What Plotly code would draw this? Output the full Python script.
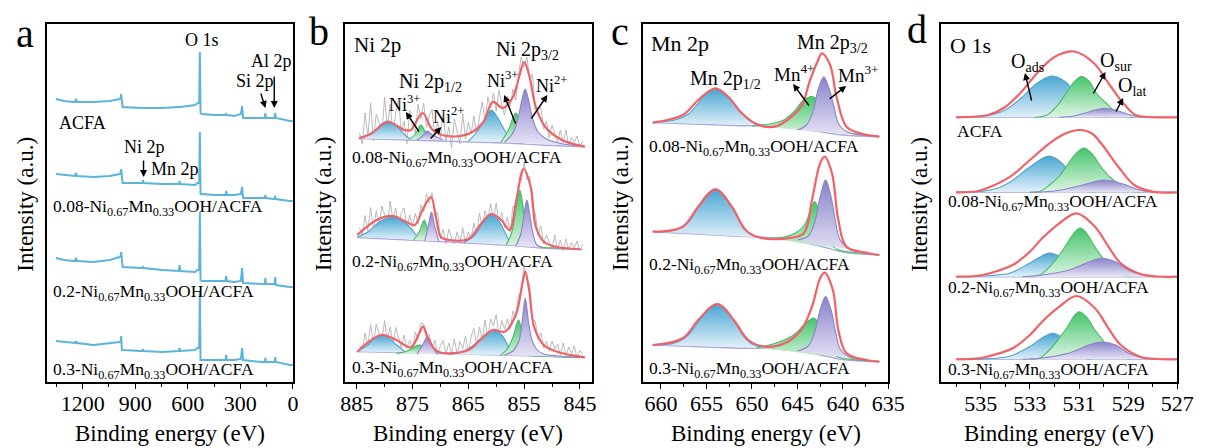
import plotly.graph_objects as go

W, H = 1208, 448
FONT = "'Liberation Serif', Tinos, 'Times New Roman', Times, 'DejaVu Serif', serif"

# ---------------- panel a : survey spectra ----------------
SURVEY_E = [1353, 1307, 1251, 1243, 1239, 1232, 1138, 1045, 989, 983, 980, 976, 972,
            866, 858, 855, 852, 746, 651, 647, 643, 559, 544, 535, 531, 527, 520, 447,
            385, 381, 377, 335, 297, 290, 284, 178, 160, 157, 154, 110, 104, 101, 98, 17, 0]
SURVEY_ACFA = [283, 281, 280, 280, 283, 280, 280, 281, 283, 284, 288, 276, 275,
               274, 274, 274, 274, 274, 275, 275, 275, 277, 279, 280, 330, 269, 268, 267,
               267, 268, 267, 266, 268, 276, 264, 264, 264, 269, 264, 264, 264, 269, 264, 261, 261]
SURVEY_008 = [208, 207, 206, 206, 209, 206, 205, 206, 208, 209, 213, 200, 199,
              199, 199, 202, 199, 198, 198, 201, 198, 197, 199, 199, 250, 188, 188, 187,
              187, 191, 187, 187, 188, 195, 184, 184, 184, 187, 184, 183, 183, 186, 183, 181, 181]
SURVEY_02 = [124, 122, 121, 121, 124, 121, 120, 122, 125, 126, 130, 116, 115,
             114, 114, 116, 114, 112, 111, 117, 111, 110, 112, 112, 170, 102, 101, 101,
             101, 106, 101, 100, 101, 114, 99, 98, 98, 104, 98, 98, 98, 105, 97, 95, 95]
SURVEY_03 = [41, 40, 39, 39, 41, 39, 37, 39, 40, 41, 46, 32, 32,
             31, 31, 33, 31, 30, 31, 34, 31, 32, 34, 34, 90, 22, 22, 22,
             22, 27, 22, 22, 23, 34, 22, 20, 20, 24, 20, 20, 20, 25, 20, 17, 17]

# ---------------- panel b : Ni 2p ----------------
NI_GRAY_E = [884.5, 884, 883.5, 883, 882.5, 882, 881.5, 881, 880.5, 880,
             879.5, 879, 878.5, 878, 877.5, 877, 876.5, 876, 875.5, 875,
             874.5, 874, 873.5, 873, 872.5, 872, 871.5, 871, 870.5, 870,
             869.5, 869, 868.5, 868, 867.5, 867, 866.5, 866, 865.5, 865,
             864.5, 864, 863.5, 863, 862.5, 862, 861.5, 861, 860.5, 860,
             859.5, 859, 858.5, 858, 857.5, 857, 856.5, 856, 855.5, 855,
             854.5, 854, 853.5, 853, 852.5, 852, 851.5, 851, 850.5, 850,
             849.5, 849, 848.5, 848, 847.5, 847, 846.5, 846, 845.5, 845, 844.5]
NI_GRAY_008 = [249, 238, 269, 245, 279, 241, 268, 260, 246, 285,
               254, 278, 249, 269, 283, 249, 261, 238, 272, 255,
               249, 278, 263, 279, 255, 266, 273, 242, 261, 244,
               270, 240, 255, 234, 263, 250, 238, 268, 243, 260,
               248, 266, 245, 265, 280, 261, 285, 274, 289, 271,
               292, 277, 267, 286, 275, 293, 282, 308, 325, 315,
               325, 303, 308, 272, 274, 274, 253, 261, 244, 257,
               249, 240, 252, 239, 252, 236, 245, 240, 246, 235, 241]
NI_GRAY_02 = [154.5, 145.5, 166.5, 151.5, 174.5, 153, 171.5, 156, 176, 167,
              157.5, 181, 162, 174, 154, 169.5, 174, 154, 167, 155,
              168.5, 158, 177, 170, 188, 179, 189, 166, 170, 143,
              153, 138, 153, 144, 138, 150, 139.5, 154.5, 138, 150,
              143.5, 159, 146.5, 169, 155.5, 171.5, 162, 178.5, 162, 179,
              157.5, 169.5, 154, 165, 150, 176, 174, 199, 201, 219,
              202, 206, 174, 169, 146, 156, 138, 147, 140, 133,
              147, 133, 142, 131.5, 143, 132, 139.5, 134.5, 141, 131, 137.5]
NI_GRAY_03 = [37, 30, 49, 36.5, 57.5, 38, 57.5, 48, 40, 61.5,
              42, 55, 38, 54.5, 44, 34.5, 47, 33.5, 42, 31.5,
              50, 43, 59, 58, 45, 48, 33, 42, 27.5, 36.5,
              41.5, 28, 39, 29, 43, 27.5, 40.5, 33.5, 46, 29,
              45, 53.5, 36, 55, 42.5, 62, 44, 63, 56, 67.5,
              45, 61.5, 53, 63, 52.5, 71, 64, 87, 89, 117,
              103, 96, 63, 61, 43, 49, 34, 41, 31, 41,
              33, 38, 26.5, 39, 26.5, 35, 28.5, 36, 24, 31.5, 28]

NI_BASE_008 = [(884.6, 243.5), (870, 241), (858, 239), (852, 237), (844.1, 235.3)]
NI_BLUE1_008 = [(884.6, 243.5), (883, 247), (881.5, 253), (880.3, 259), (879.4, 261), (878.3, 258),
                (877, 251), (876, 245), (875, 242.5)]
NI_GREEN1_008 = [(875.7, 242.5), (874.6, 247), (873.5, 257), (872.6, 249), (871.4, 242)]
NI_PURPLE1_008 = [(874.2, 242), (873.2, 246), (872.4, 251), (871.4, 247), (869.5, 242)]
NI_BLUE2_008 = [(865, 240.5), (863.5, 250), (862, 263), (860.9, 272), (859.7, 264), (858.3, 250), (857, 240)]
NI_GREEN2_008 = [(859.2, 239.5), (857.8, 252), (856.5, 269), (855.6, 258), (854.6, 241)]
NI_PURPLE2_008 = [(858.5, 240), (857, 249), (856, 266), (855.4, 282), (854.8, 293), (854.2, 282),
                  (853.5, 264), (852.5, 250), (851, 243), (848, 238), (845, 236)]
NI_RED_008 = [(884.6, 243.7), (882.3, 248.7), (879.4, 260), (876.4, 252), (875.3, 252), (873.2, 269),
              (871.4, 252), (868.8, 246), (864.7, 248.7), (862.3, 260), (860.6, 280), (858.8, 274),
              (857, 285), (855.9, 305), (855, 320), (854.1, 307), (852.9, 275), (851.2, 255),
              (848.2, 242), (844.1, 235.3)]

NI_BASE_02 = [(884.9, 144.5), (872, 141), (856, 136), (852, 134), (844.5, 132.5)]
NI_BLUE1_02 = [(884.9, 145), (883, 150), (881.4, 158), (880, 163), (878.5, 165), (877, 162),
               (875.5, 155), (874.5, 148), (873.8, 142)]
NI_GREEN1_02 = [(874.8, 142), (873.8, 150), (872.9, 162), (872.3, 152), (871.7, 141)]
NI_PURPLE1_02 = [(872.8, 141), (872.2, 155), (871.6, 170), (871.0, 155), (870.3, 141)]
NI_BLUE2_02 = [(865.8, 139.5), (864, 146), (862.5, 158), (860.9, 167), (859.5, 161), (858.3, 148), (857.3, 137)]
NI_GREEN2_02 = [(858.2, 137), (857.2, 150), (856.4, 175), (855.8, 192), (855.3, 180), (854.7, 155),
                (854, 140), (852, 135), (848, 134), (845, 133)]
NI_PURPLE2_02 = [(856.5, 136), (855.6, 148), (855.0, 168), (854.5, 182), (854.0, 168), (853.4, 148),
                 (852.7, 137), (851.5, 134.5)]
NI_RED_02 = [(884.9, 147), (881.4, 162), (878.5, 166), (876.1, 160), (874.6, 157), (873.2, 172),
             (871.7, 185), (870.8, 165), (869.9, 145), (868.4, 142), (865, 143), (862.6, 159),
             (860.9, 168), (859.1, 162), (857.6, 152), (856.4, 182), (855.1, 213), (853.8, 195),
             (852.9, 155), (851.4, 140), (849.1, 135), (845, 133)]

NI_BASE_03 = [(884.9, 30.5), (870, 28.5), (856, 26.5), (844.1, 24.5)]
NI_BLUE1_03 = [(884.9, 30.5), (883, 37), (881.8, 44), (880.6, 47), (879.3, 44), (877.8, 37), (876.2, 29.5)]
NI_GREEN1_03 = [(877.9, 28.5), (876, 31), (874.4, 36), (873.6, 37), (872.8, 33), (872.1, 28)]
NI_PURPLE1_03 = [(874.2, 28), (873.3, 36), (872.3, 45), (871.5, 37), (870.7, 28)]
NI_BLUE2_03 = [(868.5, 27.5), (866.5, 29.5), (864.5, 35), (862.5, 44), (860.6, 52), (859, 47), (858, 37), (857.2, 27)]
NI_GREEN2_03 = [(859.2, 27), (858, 33), (857, 45), (856.0, 62), (855.4, 50), (854.8, 32), (854, 27),
                (850, 25.5), (845, 24.5)]
NI_PURPLE2_03 = [(858.5, 27), (857, 31), (856, 40), (855.4, 58), (854.8, 84), (854.2, 60), (853.6, 42),
                 (852.8, 33), (851.5, 28), (849, 26), (845, 24.5)]
NI_RED_03 = [(884.9, 30), (883.2, 38.7), (880.6, 47), (877.9, 42), (875.3, 34.7), (873.8, 48.7),
             (873.1, 55.3), (872.1, 42), (870.4, 30.3), (865, 32), (862.6, 43.7), (860.6, 52),
             (858.5, 50.3), (856.5, 67), (855.3, 98.7), (854.8, 110.3), (854.1, 92), (853.2, 55),
             (851.5, 37), (849.1, 30.3), (844.1, 24.7)]

# ---------------- panel c : Mn 2p ----------------
MN_BASE_008 = [(660.9, 259.5), (652, 256.5), (647, 255.5), (643, 251), (640, 247), (636, 245.3)]
MN_BLUE_008 = [(660.9, 259.5), (658.5, 262), (657, 268), (655.9, 279), (655, 289), (654, 293), (653, 288),
               (652.2, 281), (651.2, 270), (650.2, 261), (648.5, 256.5), (647, 256)]
MN_GREEN_008 = [(650, 256), (648, 258), (646.5, 262), (645.4, 270), (644.3, 282), (643.4, 285.5),
                (642.7, 281), (642.2, 270), (641.5, 258), (640.5, 251), (639, 248.5), (636, 245.5)]
MN_PURPLE_008 = [(645, 252), (644, 257), (643.3, 270), (642.7, 293), (642.1, 305), (641.5, 293),
                 (641, 276), (640.4, 257), (639.5, 250), (638, 247), (636, 245.5)]
MN_RED_008 = [(660.9, 259.3), (657.6, 267), (655.9, 282), (654.0, 293.7), (652.6, 285.3), (651.1, 268.7),
              (649.3, 257), (647.5, 255.3), (646.1, 262), (644.6, 275.3), (643.6, 302), (642.8, 320.3),
              (642.3, 328.7), (641.4, 317), (640.7, 285.3), (639.6, 255.3), (638.1, 248.7), (636, 245.3)]

MN_BASE_02 = [(660.9, 150.3), (652, 146), (647, 143.5), (643, 137), (640, 130), (636, 127)]
MN_BLUE_02 = [(660.9, 150.5), (658.5, 152), (657, 160), (655.9, 175), (655, 187), (654, 193), (653, 186),
              (652.2, 175), (651.2, 159), (650.2, 148), (648.5, 144), (647, 143.5)]
MN_GREEN_02 = [(648, 144), (646.5, 145), (645.2, 149), (644.3, 156), (643.6, 170), (643.1, 180.5),
               (642.6, 170), (642.1, 152), (641.5, 140), (640.5, 132), (638, 129), (636, 127)]
MN_PURPLE_02 = [(645, 142), (643.8, 146), (643.1, 160), (642.5, 185), (641.9, 202), (641.3, 185),
                (640.8, 160), (640.3, 142), (639.3, 133), (637.5, 129), (636, 127)]
MN_RED_02 = [(660.9, 150.3), (657.6, 155.3), (655.9, 175.3), (654.0, 192.7), (652.2, 175.3), (650.7, 152),
             (649.3, 144.7), (646.1, 143.7), (644.3, 148.7), (643.4, 182), (642.5, 218.7), (642.0, 225.3),
             (641.2, 208.7), (640.5, 162), (639.6, 135.3), (637.4, 129.3), (636, 127)]

MN_BASE_03 = [(660.9, 37), (652, 34), (647, 33), (643, 28), (640, 22.5), (636, 20.3)]
MN_BLUE_03 = [(660.9, 37), (658.5, 39), (657, 47), (655.9, 60), (654.8, 73), (653.8, 78), (652.8, 72),
              (652, 62), (651, 47), (650, 38), (648.5, 34.5), (647, 34)]
MN_GREEN_03 = [(649.5, 34.5), (647.5, 38.5), (645.4, 47), (644.3, 57), (643.2, 64), (642.6, 57),
               (642.1, 45), (641.5, 33), (640.5, 25), (638.5, 22), (636, 20.5)]
MN_PURPLE_03 = [(645, 31), (643.8, 36), (643.1, 50), (642.5, 72), (641.9, 85.5), (641.3, 72),
                (640.8, 50), (640.3, 33), (639.3, 25), (637.5, 21.5), (636, 20.5)]
MN_RED_03 = [(660.9, 37), (657.6, 43.7), (655.9, 62), (653.8, 78), (652, 62), (650.4, 42), (648.6, 35.3),
             (646.4, 38.7), (644.6, 52), (643.4, 75.3), (642.5, 103.7), (642, 109.3), (641.1, 92),
             (640.5, 52), (639.6, 28.7), (637.4, 22), (636, 20.3)]

# ---------------- panel d : O 1s ----------------
O_BASE_ACFA = [(536, 264.7), (527, 264.7)]
O_BLUE_ACFA = [(536, 264.7), (535, 265.5), (534.5, 267.5), (534, 272), (533.35, 284), (532.7, 299),
               (532.1, 306), (531.6, 301), (531.35, 295), (530.8, 275), (530.3, 266.5), (529.8, 264.7)]
O_GREEN_ACFA = [(532.8, 264.7), (532.3, 267), (531.9, 276), (531.6, 286), (531.2, 300), (530.9, 305.5),
                (530.6, 301), (530.3, 289), (529.9, 279), (529.6, 272), (529.2, 266), (528.7, 264.7)]
O_PURPLE_ACFA = [(531.8, 264.7), (531.2, 266), (530.6, 270), (530, 273.7), (529.4, 271), (528.9, 267), (528.3, 264.7)]
O_RED_ACFA = [(536, 264.7), (535.2, 265.5), (534.7, 267), (534, 275), (533.35, 290), (532.7, 309), (532, 325),
              (531.2, 330.5), (530.4, 319), (529.75, 297), (529.2, 279), (528.7, 267), (528.2, 265), (527, 264.7)]

O_BASE_008 = [(536, 189.7), (527, 189.7)]
O_BLUE_008 = [(536, 189.7), (535, 190.5), (534.3, 194), (533.8, 200), (533, 215), (532.2, 226), (531.5, 214),
              (531.1, 197), (530.7, 190.5), (530.3, 189.7)]
O_GREEN_008 = [(533, 189.7), (532.6, 190.5), (532.2, 197), (531.8, 206), (531.5, 216), (531.1, 229), (530.8, 234),
               (530.5, 229), (530.1, 215), (529.7, 204), (529.4, 198.5), (528.9, 191), (528.5, 189.7)]
O_PURPLE_008 = [(533, 189.7), (532, 191), (531, 196), (530, 202), (529.2, 198), (528.6, 192.5), (528, 189.7)]
O_RED_008 = [(536, 189.7), (535.2, 190.5), (534.75, 193.7), (533.8, 205.3), (533, 222), (532.2, 238.7),
             (531.6, 248), (531, 252), (530.5, 249), (530.1, 238.7), (529.4, 215.3), (528.75, 197),
             (528, 190.3), (527, 189.7)]

O_BASE_02 = [(536, 105.3), (527, 105.3)]
O_BLUE_02 = [(535.5, 105.3), (534.6, 106.5), (533.8, 109), (533, 119), (532.2, 129), (531.7, 124), (531.3, 115),
             (531.0, 108), (530.6, 105.3)]
O_GREEN_02 = [(533, 105.3), (532.6, 107), (532.2, 115), (531.8, 127), (531.5, 138), (531.2, 149), (530.95, 154),
              (530.7, 149), (530.35, 135), (530, 123), (529.7, 114), (529.3, 107), (528.9, 105.3)]
O_PURPLE_02 = [(533.3, 105.3), (532.5, 107), (531.4, 112), (530.6, 120), (530.1, 123.7), (529.5, 120),
               (529, 112), (528.4, 107), (527.8, 105.3)]
O_RED_02 = [(536, 105.3), (535.2, 106), (534.75, 108), (533.7, 117), (533, 130.3), (532.5, 143.7), (531.8, 158.7),
            (531.1, 168.7), (530.35, 155.3), (529.8, 135.3), (529.3, 118.7), (528.5, 108), (527.8, 105.5), (527, 105.3)]

O_BASE_03 = [(536, 22.7), (527, 22.7)]
O_BLUE_03 = [(535.5, 22.7), (534.5, 23.5), (533.8, 26), (533, 35.5), (532.5, 44), (532.1, 48.7), (531.7, 45),
             (531.4, 38), (531.1, 29), (530.7, 23), (530.4, 22.7)]
O_GREEN_03 = [(533, 22.7), (532.6, 24), (532.2, 32), (531.8, 44), (531.5, 54), (531.2, 66), (531.0, 70.3),
              (530.7, 65), (530.35, 52), (530, 41), (529.7, 31), (529.3, 24.5), (528.9, 22.7)]
O_PURPLE_03 = [(533.3, 22.7), (532.5, 24), (531.4, 29), (530.6, 37), (530.1, 40), (529.5, 37), (529, 29),
               (528.4, 24), (527.8, 22.7)]
O_RED_03 = [(536, 22.7), (535.2, 23.3), (534.75, 25.3), (533.7, 33.7), (533, 47), (532.5, 60.3), (531.8, 75.3),
            (531.1, 86), (530.35, 73.7), (529.8, 53.7), (529.3, 37), (528.5, 25.3), (527.8, 23), (527, 22.7)]

# ---------------- styling ----------------
SURVEY_COLOR = "rgb(92,180,219)"
RED = "rgb(240,98,104)"
GRAY = "rgb(178,178,178)"
BASE_COLOR = "rgb(172,168,222)"
COMP = {
    "blue": ("rgb(82,162,204)", "rgb(226,241,250)", "rgb(72,166,210)"),
    "green": ("rgb(70,186,102)", "rgb(222,246,228)", "rgb(70,196,108)"),
    "purple": ("rgb(138,133,200)", "rgb(232,230,246)", "rgb(136,130,202)"),
}

PANELS = {  # pixel extents of the frames
    "a": (43, 293, [1402, 0], [1200, 900, 600, 300, 0], [1350, 1050, 750, 450, 150]),
    "b": (346, 597, [887.1, 842.9], [885, 875, 865, 855, 845], [880, 870, 860, 850]),
    "c": (649, 899, [662, 635], [660, 655, 650, 645, 640, 635], [657.5, 652.5, 647.5, 642.5, 637.5]),
    "d": (953, 1193, [536.6, 527], [535, 533, 531, 529, 527], [536, 534, 532, 530, 528]),
}
TOP, BOTTOM = 24, 382

fig = go.Figure()
axis_ids = {"a": ("x", "y"), "b": ("x2", "y2"), "c": ("x3", "y3"), "d": ("x4", "y4")}


def line(pts_x, pts_y, panel, color, width, shape="linear", **kw):
    xa, ya = axis_ids[panel]
    fig.add_trace(go.Scatter(x=pts_x, y=pts_y, mode="lines", xaxis=xa, yaxis=ya,
                             line=dict(color=color, width=width, shape=shape),
                             showlegend=False, hoverinfo="skip", **kw))


def curve(pts, panel, color, width):
    line([p[0] for p in pts], [p[1] for p in pts], panel, color, width, shape="spline")


def comp(pts, panel, key):
    lc, c0, c1 = COMP[key]
    xs = [p[0] for p in pts]
    ys = [p[1] for p in pts]
    line([xs[0], xs[-1]], [ys[0], ys[-1]], panel, "rgba(0,0,0,0)", 0)
    line(xs, ys, panel, lc, 1.1, shape="spline", fill="tonexty",
         fillgradient=dict(type="vertical", colorscale=[[0, c0], [1, c1]]))


# panel a
for series in (SURVEY_ACFA, SURVEY_008, SURVEY_02, SURVEY_03):
    line(SURVEY_E, series, "a", SURVEY_COLOR, 2.0)

# panel b
for gray, base, b1, g1, p1, b2, g2, p2, red in [
    (NI_GRAY_008, NI_BASE_008, NI_BLUE1_008, NI_GREEN1_008, NI_PURPLE1_008, NI_BLUE2_008, NI_GREEN2_008, NI_PURPLE2_008, NI_RED_008),
    (NI_GRAY_02, NI_BASE_02, NI_BLUE1_02, NI_GREEN1_02, NI_PURPLE1_02, NI_BLUE2_02, NI_GREEN2_02, NI_PURPLE2_02, NI_RED_02),
    (NI_GRAY_03, NI_BASE_03, NI_BLUE1_03, NI_GREEN1_03, NI_PURPLE1_03, NI_BLUE2_03, NI_GREEN2_03, NI_PURPLE2_03, NI_RED_03),
]:
    line(NI_GRAY_E, gray, "b", GRAY, 0.9)
    curve(base, "b", BASE_COLOR, 1.4)
    comp(b1, "b", "blue")
    comp(b2, "b", "blue")
    comp(g1, "b", "green")
    comp(g2, "b", "green")
    comp(p1, "b", "purple")
    comp(p2, "b", "purple")
    curve(red, "b", RED, 2.2)

# panel c
for base, b, g, p, red in [
    (MN_BASE_008, MN_BLUE_008, MN_GREEN_008, MN_PURPLE_008, MN_RED_008),
    (MN_BASE_02, MN_BLUE_02, MN_GREEN_02, MN_PURPLE_02, MN_RED_02),
    (MN_BASE_03, MN_BLUE_03, MN_GREEN_03, MN_PURPLE_03, MN_RED_03),
]:
    curve(base, "c", BASE_COLOR, 1.4)
    comp(b, "c", "blue")
    comp(g, "c", "green")
    comp(p, "c", "purple")
    curve(red, "c", RED, 2.2)

# panel d
for base, b, g, p, red in [
    (O_BASE_ACFA, O_BLUE_ACFA, O_GREEN_ACFA, O_PURPLE_ACFA, O_RED_ACFA),
    (O_BASE_008, O_BLUE_008, O_GREEN_008, O_PURPLE_008, O_RED_008),
    (O_BASE_02, O_BLUE_02, O_GREEN_02, O_PURPLE_02, O_RED_02),
    (O_BASE_03, O_BLUE_03, O_GREEN_03, O_PURPLE_03, O_RED_03),
]:
    curve(base, "d", BASE_COLOR, 1.4)
    comp(b, "d", "blue")
    comp(g, "d", "green")
    comp(p, "d", "purple")
    curve(red, "d", RED, 2.2)

# axes
layout_axes = {}
for i, key in enumerate("abcd"):
    x0, x1, rng, major, minor = PANELS[key]
    sfx = "" if i == 0 else str(i + 1)
    layout_axes["xaxis" + sfx] = dict(
        domain=[x0 / W, x1 / W], range=rng, anchor="y" + sfx,
        tickmode="array", tickvals=major, ticks="outside", ticklen=5, tickwidth=1.2,
        tickcolor="black", showline=True, linecolor="black", linewidth=1.6, mirror=True,
        showgrid=False, zeroline=False, ticklabelstandoff=-4,
        tickfont=dict(family=FONT, size=22, color="black"),
        minor=dict(tickvals=minor, ticks="outside", ticklen=3, tickwidth=1.1, tickcolor="black", showgrid=False),
    )
    layout_axes["yaxis" + sfx] = dict(
        domain=[1 - BOTTOM / H, 1 - TOP / H], range=[0, 358], anchor="x" + sfx,
        showticklabels=False, ticks="", showline=True, linecolor="black", linewidth=1.6,
        mirror=True, showgrid=False, zeroline=False,
    )

annotations = []


def ann(text, x, y, size, xanchor="center", angle=0):
    annotations.append(dict(text=text, x=x / W, y=1 - y / H, xref="paper", yref="paper",
                            xanchor=xanchor, yanchor="middle", showarrow=False, textangle=angle,
                            font=dict(family=FONT, size=size, color="black")))


def arrow(tail, head):
    annotations.append(dict(text="", x=head[0] / W, y=1 - head[1] / H, xref="paper", yref="paper",
                            ax=tail[0] - head[0], ay=tail[1] - head[1], axref="pixel", ayref="pixel",
                            showarrow=True, arrowhead=2, arrowsize=1, arrowwidth=1.4,
                            arrowcolor="black", standoff=0, startstandoff=0))


SAMPLE_008 = "0.08-Ni<sub>0.67</sub>Mn<sub>0.33</sub>OOH/ACFA"
SAMPLE_02 = "0.2-Ni<sub>0.67</sub>Mn<sub>0.33</sub>OOH/ACFA"
SAMPLE_03 = "0.3-Ni<sub>0.67</sub>Mn<sub>0.33</sub>OOH/ACFA"

# panel letters
ann("a", 20, 33, 40)
ann("b", 320, 31, 40)
ann("c", 626, 32, 40)
ann("d", 928, 29, 40)

# axis titles
for cx, tx in [(21, 168), (325, 471), (627, 774), (931, 1073)]:
    ann("Intensity (a.u.)", cx, 204, 23, angle=-90)
    ann("Binding energy (eV)", tx, 433, 23)

# panel a texts
ann("O 1s", 200, 40, 18)
ann("Al 2p", 271, 61, 18)
ann("Si 2p", 254, 81, 18)
arrow((260, 92), (265, 108))
arrow((274, 75), (274, 108))
ann("ACFA", 79, 123, 18)
ann("Ni 2p", 142, 147, 18)
arrow((141, 159), (141, 177))
ann("Mn 2p", 173, 169, 18)
ann(SAMPLE_008, 47, 207, 17.5, xanchor="left")
ann(SAMPLE_02, 47, 292, 17.5, xanchor="left")
ann(SAMPLE_03, 47, 370, 17.5, xanchor="left")

# panel b texts
ann("Ni 2p", 353, 45, 21, xanchor="left")
ann("Ni 2p<sub>3/2</sub>", 532, 51, 20)
ann("Ni 2p<sub>1/2</sub>", 433, 82, 20)
ann("Ni<sup>3+</sup>", 407, 103, 18)
ann("Ni<sup>2+</sup>", 451, 115, 18)
ann("Ni<sup>3+</sup>", 506, 79, 18)
ann("Ni<sup>2+</sup>", 556, 84, 18)
arrow((422, 133), (408, 112))
arrow((432, 140), (444, 127))
arrow((520, 125), (508, 95))
arrow((535, 120), (552, 95))
ann(SAMPLE_008, 351, 158, 17.5, xanchor="left")
ann(SAMPLE_02, 351, 262, 17.5, xanchor="left")
ann(SAMPLE_03, 351, 368, 17.5, xanchor="left")

# panel c texts
ann("Mn 2p", 655, 43, 22, xanchor="left")
ann("Mn 2p<sub>3/2</sub>", 842, 43, 20)
ann("Mn 2p<sub>1/2</sub>", 733, 79, 20)
ann("Mn<sup>4+</sup>", 803, 73, 19)
ann("Mn<sup>3+</sup>", 869, 74, 19)
arrow((819, 107), (802, 84))
arrow((838, 100), (856, 86))
ann(SAMPLE_008, 653, 147, 17.5, xanchor="left")
ann(SAMPLE_02, 653, 265, 17.5, xanchor="left")
ann(SAMPLE_03, 653, 369, 17.5, xanchor="left")

# panel d texts
ann("O 1s", 960, 45, 22, xanchor="left")
ann("O<sub>ads</sub>", 1041, 62, 20)
ann("O<sub>sur</sub>", 1131, 61, 20)
ann("O<sub>lat</sub>", 1147, 86, 20)
arrow((1045, 102), (1038, 73))
arrow((1107, 95), (1120, 72))
arrow((1130, 113), (1138, 98))
ann("ACFA", 967, 131, 17.5, xanchor="left")
ann(SAMPLE_008, 958, 202, 17.5, xanchor="left")
ann(SAMPLE_02, 958, 288, 17.5, xanchor="left")
ann(SAMPLE_03, 958, 370, 17.5, xanchor="left")

fig.update_layout(
    width=W, height=H, margin=dict(l=0, r=0, t=0, b=0),
    paper_bgcolor="white", plot_bgcolor="white",
    font=dict(family=FONT, color="black"),
    annotations=annotations, showlegend=False,
    **layout_axes,
)

fig.write_html("out.html")
